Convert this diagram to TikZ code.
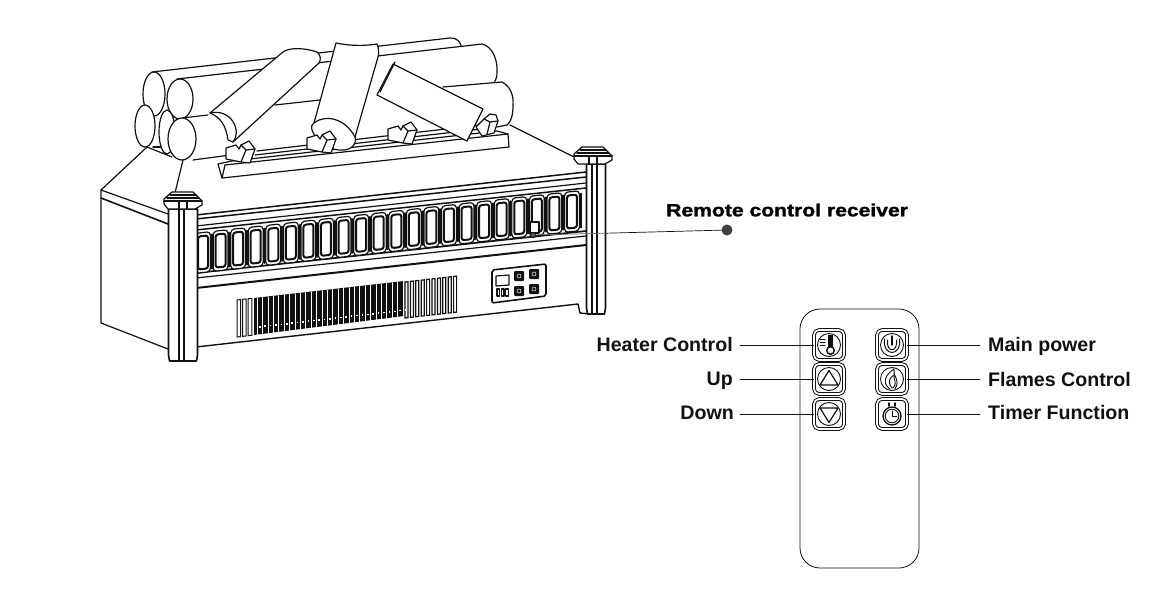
\documentclass[tikz,border=0pt]{standalone}
\usepackage{fontspec}
\setmainfont{Liberation Sans}
\newfontfamily\widefont[FakeStretch=1.2,BoldFeatures={FakeBold=1.6}]{Liberation Sans}
\usetikzlibrary{calc}
\definecolor{tinta}{HTML}{111111}
\definecolor{guia}{HTML}{666666}
\tikzset{
  ink/.style={draw=tinta, line width=1.2pt, line join=round},
  wood/.style={ink, fill=white},
  remotebtn/.style={draw=tinta, line width=1pt, rounded corners=5pt, minimum size=30pt, inner sep=0pt, double=white, double distance=1.6pt},
  calllabel/.style={font=\bfseries\fontsize{19.6}{21}\selectfont, inner ysep=0pt, text height=14pt, text depth=0pt, text=tinta},
  leader/.style={draw=tinta, line width=.8pt}
}
\begin{document}
\begin{tikzpicture}[x=1pt, y=-1pt, line cap=round]
  \useasboundingbox (0,0) rectangle (1156,607);
  % hearth top and side
  \draw[ink] (147,147) -- (101,190) -- (168,214);
  \draw[ink, line width=1.6pt] (101,198) -- (168,224);
  \draw[ink] (101,190) -- (101,323) -- (168,349);
  \draw[ink] (183,160) -- (175,193);
  \draw[ink] (510,125) -- (576,158);
  % logs at the back
  \fill[white] (152,72) -- (450,38) -- (461,46) -- (440,90) -- (200,120) -- cycle;
  \draw[ink] (152,72) -- (450,38) .. controls (458,38) and (460,42) .. (461,46);
  \fill[white] (177,79) -- (482,44) -- (497,72) -- (494,83) -- (430,100) -- (200,125) -- cycle;
  \draw[ink] (177,79) -- (482,44) .. controls (492,46) and (498,60) .. (497,72) .. controls (497,77) and (496,80) .. (494,83);
  \fill[white] (443,87) -- (502,82) -- (513,106) -- (507,125) -- (490,128) -- (440,130) -- cycle;
  \draw[ink] (443,87) -- (502,82) .. controls (510,86) and (514,95) .. (513,106) .. controls (513,115) and (511,122) .. (507,125) -- (497,127);
  \fill[white] (206,110) -- (320,100) -- (320,130) -- (230,155) -- (193,160) -- cycle;
  \draw[ink] (275,105) -- (320,100);
  \draw[wood] (154,94) ellipse (11 and 22);
  \draw[wood] (180,99) ellipse (13 and 20);
  \draw[ink] (147,147) -- (172,157);
  \draw[ink] (153,147) -- (162,147);
  \draw[wood] (145,126) ellipse (10 and 21);
  \draw[wood] (167,132) ellipse (8 and 22);
  \fill[white] (182,118) -- (208,115) -- (240,150) -- (193,160) -- cycle;
  \draw[ink] (182,118) -- (208,115);
  \draw[ink] (193,160) -- (253,152);
  \draw[wood] (182,139) ellipse (14 and 21);
  % rail under the logs
  \draw[ink] (257,151) -- (480,125);
  \draw[ink] (255,155) -- (490,128);
  \draw[wood] (218,164) -- (232,161) -- (497,131) -- (508,134) -- (509,147) -- (222,178) -- cycle;
  \draw[ink] (225,165) -- (508,134);
  \draw[ink] (225,165) -- (222,178);
  % logs leaning on the rail
  \draw[wood] (210,113) -- (283,52) .. controls (290,47) and (305,48) .. (317,52) .. controls (321,55) and (321,60) .. (319,63) -- (233,142) -- (228,140) .. controls (226,125) and (220,117) .. (210,113) -- cycle;
  \draw[ink] (233,142) .. controls (242,132) and (232,108) .. (210,113);
  \draw[wood] (336,43) .. controls (350,46) and (365,46) .. (377,44) .. controls (379,48) and (379,54) .. (378,57) -- (355,137) .. controls (357,144) and (352,149) .. (345,150) .. controls (330,152) and (315,140) .. (312,130) .. controls (311,126) and (312,124) .. (314,123) -- cycle;
  \draw[ink] (314,123) .. controls (325,114) and (345,118) .. (355,137);
  \foreach \bx/\by in {487/125} {
    \draw[wood] ({\bx-11},{\by+2}) -- ({\bx-3},{\by-6}) -- ({\bx+3},{\by-11}) -- ({\bx+9},{\by-10}) -- ({\bx+11},{\by-4}) -- ({\bx+7},{\by+8}) -- ({\bx-5},{\by+11}) -- cycle;
    \draw[ink] ({\bx-3},{\by-6}) -- ({\bx+3},{\by-3}) -- ({\bx+11},{\by-4}) ({\bx+3},{\by-3}) -- ({\bx},{\by+9});
  }
  \draw[wood] (393,64) -- (483,109) -- (467,141) -- (377,95) -- cycle;
  \draw[ink] (380,92) -- (395,62);
  % brackets on the rail
  \foreach \bx/\by in {241/152, 322/142, 403/133} {
    \draw[wood] ({\bx-15},{\by-4}) -- ({\bx-5},{\by-7}) -- ({\bx-2},{\by-3}) -- ({\bx},{\by-7}) -- ({\bx+8},{\by-11}) -- ({\bx+14},{\by-3}) -- ({\bx+9},{\by+11}) -- ({\bx},{\by+10}) -- ({\bx-15},{\by+7}) -- cycle;
    \draw[ink] ({\bx},{\by-7}) -- ({\bx+5},{\by-2}) -- ({\bx+14},{\by-3}) ({\bx+5},{\by-2}) -- ({\bx},{\by+10});
  }
  % front of the heater
  \draw[ink, line width=1.5pt] (196,215) -- (586,172);
  \draw[ink, line width=1.5pt] (196,219) -- (586,177);
  \draw[ink] (196,226) -- (586,183);
  \draw[ink, line width=1.5pt] (196,230) -- (586,188);
  \draw[ink, line width=1.7pt] (196,273) -- (586,231);
  \draw[ink] (196,278) -- (586,236);
  \draw[ink, line width=2pt] (196,288) -- (586,245);
  \draw[ink, line width=1.4pt] (196,347) -- (578,304) -- (580,313) -- (590,314);
  % flame slots
  \foreach \n in {0,...,21} {
    \begin{scope}[shift={({203+17.57*\n},{252.5-1.95*\n})}, yslant=.11]
      \draw[ink, fill=white, rounded corners=3.5pt] (-7.4,-20) rectangle (7.4,20);
      \draw[draw=tinta, line width=2pt, rounded corners=2.5pt] (-5,-16.5) rectangle (5,16.5);
      \draw[draw=tinta, line width=2.2pt] (8.8,-17) -- (8.8,17);
    \end{scope}
  }
  % receiver window
  \draw[wood] (530,222) rectangle (539,233);
  \draw[ink, fill=guia] (533,235) circle (2.5);
  % louvres
  \fill[tinta] (254,298) -- (404,281) -- (404,316) -- (254,335) -- cycle;
  \foreach \n in {0,1,2} \draw[tinta, line width=1pt] ({237+5.6*\n},{300-.64*\n}) -- ++(0,37) -- ++(3.6,-.4) -- ++(0,-37) -- cycle;
  \foreach \n in {0,...,9} \draw[tinta, line width=1.2pt] ({405+5.4*\n},{282-.62*\n}) -- ++(0,36) -- ++(3,-.3) -- ++(0,-36) -- cycle;
  \foreach \n in {0,...,27} {
    \draw[white, line width=.35pt] ({257+5.4*\n},{298-.62*\n}) -- ++(0,37);
    \fill[white] ({259+5.4*\n},{326-.62*\n}) rectangle ++(1.6,1.6);
  }
  % control panel
  \draw[ink, line width=1.6pt, rounded corners=2pt] (492,270) -- (546,264) -- (546,296) -- (492,303) -- cycle;
  \draw[ink] (496,276) -- (509,275) -- (509,285) -- (496,286) -- cycle;
  \foreach \n in {0,1,2} \draw[ink, line width=1.3pt] ({497+4.3*\n},{289}) rectangle ++(2.6,7);
  \foreach \px/\py in {519/276, 534/274, 519/291, 534/289} {
    \fill[tinta, rounded corners=1pt] ({\px-5},{\py-5}) rectangle ({\px+5},{\py+5});
    \draw[white, line width=.5pt] (\px,\py) circle (2);
  }
  % corner posts
  \foreach \cx/\mx/\cy/\pw/\pb in {183/183/201/29/361, 593/596/156/19/314} {
    \draw[wood, line width=1.6pt] ({\mx-\pw/2},{\cy+8}) -- ({\mx-\pw/2},{\pb-6}) -- ({\mx-\pw/2+1},{\pb}) -- ({\mx+\pw/2-1},{\pb}) -- ({\mx+\pw/2},{\pb-6}) -- ({\mx+\pw/2},{\cy+8}) -- cycle;
    \draw[ink, line width=1.4pt] ({\mx-4},{\cy+8}) -- ({\mx-4},{\pb});
    \draw[ink] ({\mx+1},{\cy+8}) -- ({\mx+1},{\pb});
    \draw[wood] ({\cx-11},{\cy-9}) -- ({\cx+10},{\cy-9}) -- ({\cx+19},{\cy}) -- ({\cx+19},{\cy+4}) -- ({\cx+12},{\cy+8}) -- ({\cx-15},{\cy+8}) -- ({\cx-19},{\cy+3}) -- ({\cx-19},{\cy-2}) -- cycle;
    \draw[ink] ({\cx-13},{\cy-6}) -- ({\cx+13},{\cy-6}) ({\cx-16},{\cy-3}) -- ({\cx+16},{\cy-3}) ({\cx-19},{\cy}) -- ({\cx+19},{\cy});
    \draw[ink] ({\cx-4},{\cy}) -- ({\cx-4},{\cy+8}) ({\cx+4},{\cy}) -- ({\cx+4},{\cy+8});
  }
  % receiver callout
  \coordinate (rcvPoint) at (533,235);
  \coordinate (rcvPost) at (606,233.2);
  \node[circle, fill=black!75, minimum size=11pt, inner sep=0pt] (rcvDot) at (727,230) {};
  \draw[guia, line width=.7pt] (rcvPoint) -- (rcvPost);
  \draw[tinta, line width=.7pt] (rcvPost) -- (rcvDot);
  \node[anchor=west, inner sep=0pt, text=black, font=\widefont\bfseries\fontsize{17.6}{19}\selectfont] (rcvText) at (666,210) {Remote control receiver};
  % remote
  \draw[draw=tinta, line width=.8pt, rounded corners=20pt] (800,309) rectangle (919,568);
  \node[remotebtn] (btnHeater) at (829,345) {};
  \node[remotebtn] (btnUp) at (829,379) {};
  \node[remotebtn] (btnDown) at (829,414) {};
  \node[remotebtn] (btnPower) at (892,345) {};
  \node[remotebtn] (btnFlame) at (892,379) {};
  \node[remotebtn] (btnTimer) at (892,414) {};
  \foreach \btn in {btnHeater,btnUp,btnDown,btnPower,btnFlame} \draw[ink, line width=.9pt] (\btn) circle (11.5);
  \draw[tinta, fill=tinta] ($(btnHeater)+(-.5,-10)$) rectangle ($(btnHeater)+(3.5,1)$);
  \draw[tinta, line width=1.4pt, fill=white] ($(btnHeater)+(1.5,5.5)$) circle (3.8);
  \draw[tinta, line width=1pt] ($(btnHeater)+(-9,-6)$) -- ++(5,0) ($(btnHeater)+(-9,-3)$) -- ++(5,0) ($(btnHeater)+(-9,0)$) -- ++(5,0);
  \draw[ink] ($(btnUp)+(0,-8.5)$) -- ($(btnUp)+(9,6)$) -- ($(btnUp)+(-9,6)$) -- cycle;
  \draw[ink] ($(btnDown)+(0,8.5)$) -- ($(btnDown)+(9,-6)$) -- ($(btnDown)+(-9,-6)$) -- cycle;
  \draw[ink, line width=1pt] ($(btnPower)+(-7.5,-6)$) .. controls ($(btnPower)+(-10,12)$) and ($(btnPower)+(10,12)$) .. ($(btnPower)+(7.5,-6)$);
  \draw[ink, line width=1pt] ($(btnPower)+(-4.5,-5)$) .. controls ($(btnPower)+(-6,8)$) and ($(btnPower)+(6,8)$) .. ($(btnPower)+(4.5,-5)$);
  \draw[ink, line width=1.4pt] ($(btnPower)+(0,-9)$) -- ++(0,9);
  \draw[ink, line width=.9pt] ($(btnFlame)+(-2,10)$) .. controls ($(btnFlame)+(-11,4)$) and ($(btnFlame)+(-6,-5)$) .. ($(btnFlame)+(2,-10)$) .. controls ($(btnFlame)+(0,-3)$) and ($(btnFlame)+(9,0)$) .. ($(btnFlame)+(3,10)$);
  \draw[ink, line width=.9pt] ($(btnFlame)+(0,9)$) .. controls ($(btnFlame)+(-5,3)$) and ($(btnFlame)+(-2,-2)$) .. ($(btnFlame)+(2,-4)$) .. controls ($(btnFlame)+(1,1)$) and ($(btnFlame)+(6,3)$) .. ($(btnFlame)+(1,9)$);
  \draw[ink, line width=1.3pt] ($(btnTimer)+(0,2)$) circle (9);
  \draw[ink, line width=.9pt] ($(btnTimer)+(0,2)$) circle (6.8);
  \draw[ink, line width=.9pt] ($(btnTimer)+(0,-3)$) -- ($(btnTimer)+(0,2)$) -- ($(btnTimer)+(5,2)$);
  \draw[tinta, line width=1.8pt] ($(btnTimer)+(-3,-11)$) -- ++(0,3) ($(btnTimer)+(3,-11)$) -- ++(0,3);
  % labels
  \node[calllabel, anchor=east, inner xsep=7pt] (lblHeater) at (740,344) {Heater Control};
  \node[calllabel, anchor=east, inner xsep=7pt] (lblUp) at (740,378) {Up};
  \node[calllabel, anchor=east, inner xsep=6pt] (lblDown) at (740,412) {Down};
  \node[calllabel, anchor=west, inner xsep=8pt] (lblPower) at (980,344) {Main power};
  \node[calllabel, anchor=west, inner xsep=8pt] (lblFlame) at (980,379) {Flames Control};
  \node[calllabel, anchor=west, inner xsep=8pt] (lblTimer) at (980,412) {Timer Function};
  \foreach \lbl/\btn in {lblHeater/btnHeater, lblUp/btnUp, lblDown/btnDown} \draw[leader] (\lbl.east |- \btn) -- (\btn.west);
  \foreach \lbl/\btn in {lblPower/btnPower, lblFlame/btnFlame, lblTimer/btnTimer} \draw[leader] (\btn.east) -- (\lbl.west |- \btn);
\end{tikzpicture}
\end{document}
